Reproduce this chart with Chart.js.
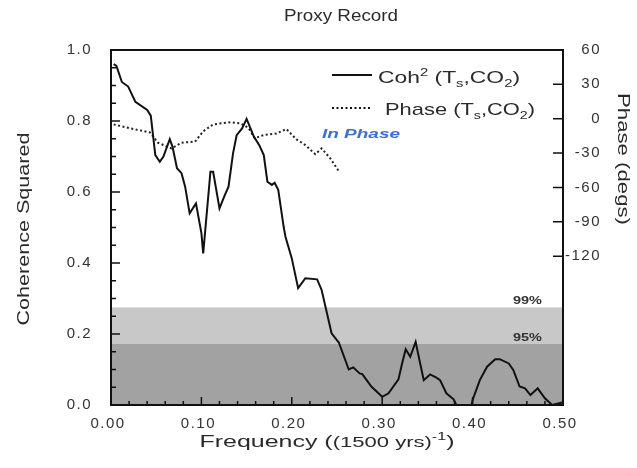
<!DOCTYPE html>
<html>
<head>
<meta charset="utf-8">
<style>
  html, body { margin: 0; padding: 0; background: #fff; }
  canvas { display: block; }
</style>
<script src="https://cdn.jsdelivr.net/npm/chart.js@4.4.1/dist/chart.umd.min.js"></script>
</head>
<body>
<canvas id="chart" width="637" height="468"></canvas>
<script>
// Coherence squared (solid line)
const cohFreq = [0.003, 0.006, 0.012, 0.019, 0.027, 0.040, 0.044, 0.049, 0.054, 0.058,
  0.065, 0.068, 0.073, 0.078, 0.082, 0.087, 0.094, 0.100, 0.102, 0.110,
  0.113, 0.120, 0.126, 0.130, 0.135, 0.139, 0.145, 0.150, 0.158, 0.164,
  0.169, 0.173, 0.178, 0.181, 0.185, 0.191, 0.193, 0.200, 0.207, 0.215,
  0.228, 0.233, 0.244, 0.252, 0.263, 0.268, 0.275, 0.278, 0.288, 0.300,
  0.307, 0.318, 0.322, 0.326, 0.331, 0.337, 0.342, 0.346, 0.353, 0.360,
  0.364, 0.371, 0.379, 0.382, 0.399, 0.400, 0.408, 0.416, 0.425, 0.430,
  0.440, 0.445, 0.452, 0.458, 0.464, 0.472, 0.480, 0.488, 0.499];
const coh = [0.96, 0.955, 0.91, 0.897, 0.854, 0.831, 0.815, 0.704, 0.685, 0.70,
  0.749, 0.728, 0.667, 0.653, 0.615, 0.54, 0.568, 0.484, 0.427, 0.657,
  0.657, 0.554, 0.592, 0.615, 0.709, 0.76, 0.779, 0.806, 0.756, 0.732,
  0.704, 0.629, 0.62, 0.626, 0.606, 0.502, 0.474, 0.413, 0.329, 0.357,
  0.354, 0.324, 0.202, 0.176, 0.100, 0.106, 0.089, 0.087, 0.052, 0.023,
  0.033, 0.072, 0.117, 0.157, 0.136, 0.178, 0.117, 0.070, 0.086, 0.077,
  0.070, 0.033, 0.016, 0.0, 0.0, 0.014, 0.07, 0.108, 0.129, 0.129,
  0.117, 0.099, 0.052, 0.047, 0.028, 0.047, 0.019, 0.0, 0.007];

// Phase in degrees (dotted line, right axis)
const phaseFreq = [0.003, 0.025, 0.043, 0.052, 0.067, 0.078, 0.093, 0.102, 0.113, 0.132,
  0.143, 0.152, 0.159, 0.170, 0.183, 0.194, 0.205, 0.215, 0.226, 0.233, 0.242, 0.253];
const phase = [-5, -9, -12, -21, -26, -21, -20, -11, -5, -3,
  -4, -8, -17, -14, -13, -9, -18, -23, -31, -26, -34, -47];

// significance levels: 99% and 95%
const sigLevels = [0.275, 0.172];
const sigLabels = ["99%", "95%"];

const xTicks = [0, 0.1, 0.2, 0.3, 0.4, 0.5];
const yTicks = [0, 0.2, 0.4, 0.6, 0.8, 1.0];
const phaseTicks = [60, 30, 0, -30, -60, -90, -120];

const FONT = "'Liberation Sans', Arial, sans-serif";
const TEXT = "#2a2a2a";

// draw a run of text pieces (super/subscripts), squeezed or stretched to a target width
function richText(ctx, parts, x, y, targetW, opts) {
  opts = opts || {};
  ctx.save();
  ctx.letterSpacing = "0px";
  let w = 0;
  parts.forEach((p) => {
    ctx.font = `${p.style || ""} ${p.weight || ""} ${p.size}px ${FONT}`;
    p.w = ctx.measureText(p.t).width;
    w += p.w;
  });
  const s = targetW / w;
  ctx.translate(x, y);
  if (opts.rot) ctx.rotate(opts.rot);
  ctx.scale(s, 1);
  ctx.fillStyle = opts.color || TEXT;
  ctx.textBaseline = "alphabetic";
  ctx.textAlign = "left";
  let cx = opts.align === "left" ? 0 : opts.align === "right" ? -w : -w / 2;
  parts.forEach((p) => {
    ctx.font = `${p.style || ""} ${p.weight || ""} ${p.size}px ${FONT}`;
    ctx.fillText(p.t, cx, p.dy || 0);
    cx += p.w;
  });
  ctx.restore();
}

const spacing = {
  id: "spacing",
  beforeLayout(chart) { chart.ctx.letterSpacing = "1.5px"; },
  beforeDraw(chart) { chart.ctx.letterSpacing = "1.5px"; },
};

const bands = {
  id: "bands",
  beforeDatasetsDraw(chart) {
    const { ctx, chartArea: a, scales } = chart;
    const y = scales.y;
    ctx.save();
    ctx.fillStyle = "#c8c8c8";
    ctx.fillRect(a.left, y.getPixelForValue(sigLevels[0]), a.right - a.left,
      y.getPixelForValue(sigLevels[1]) - y.getPixelForValue(sigLevels[0]));
    ctx.fillStyle = "#a2a2a2";
    ctx.fillRect(a.left, y.getPixelForValue(sigLevels[1]), a.right - a.left,
      y.getPixelForValue(0) - y.getPixelForValue(sigLevels[1]));
    ctx.restore();
    sigLevels.forEach((lv, i) => {
      richText(ctx, [{ t: sigLabels[i], size: 10, weight: "bold" }],
        a.right - 21, y.getPixelForValue(lv) - 3, 29, { align: "right", color: "#333" });
    });
  },
};

const frame = {
  id: "frame",
  afterDraw(chart) {
    const { ctx, chartArea: a, scales } = chart;
    ctx.save();
    ctx.letterSpacing = "0px";
    ctx.strokeStyle = "#111";
    ctx.lineWidth = 1.5;
    ctx.beginPath();
    // x ticks pointing up into the plot
    for (let i = 0; i <= 25; i++) {
      const v = i * 0.02;
      const px = scales.x.getPixelForValue(v);
      const len = i % 5 === 0 ? 8 : 4;
      ctx.moveTo(px, a.bottom);
      ctx.lineTo(px, a.bottom - len);
    }
    // left ticks
    for (let i = 0; i <= 20; i++) {
      const v = i * 0.05;
      const py = scales.y.getPixelForValue(v);
      const len = i % 4 === 0 ? 9 : 5;
      ctx.moveTo(a.left, py);
      ctx.lineTo(a.left + len, py);
    }
    // right ticks
    phaseTicks.forEach((v) => {
      const py = scales.y2.getPixelForValue(v);
      ctx.moveTo(a.right, py);
      ctx.lineTo(a.right - 10, py);
    });
    ctx.stroke();
    ctx.lineWidth = 2;
    ctx.strokeRect(a.left, a.top, a.right - a.left, a.bottom - a.top);

    // legend keys
    const lx = a.left + 221;
    ctx.lineWidth = 2;
    ctx.beginPath();
    ctx.moveTo(lx, a.top + 25);
    ctx.lineTo(lx + 40, a.top + 25);
    ctx.stroke();
    ctx.setLineDash([2, 2.5]);
    ctx.beginPath();
    ctx.moveTo(lx, a.top + 58);
    ctx.lineTo(lx + 40, a.top + 58);
    ctx.stroke();
    ctx.restore();

    const sub = (t) => ({ t, size: 11, dy: 4 });
    richText(ctx, [{ t: "Coh", size: 17 }, { t: "2", size: 11, dy: -7 }, { t: " (T", size: 17 },
      sub("s"), { t: ",CO", size: 17 }, sub("2"), { t: ")", size: 17 }],
      a.left + 267, a.top + 33, 142, { align: "left" });
    richText(ctx, [{ t: "Phase (T", size: 17 }, sub("s"), { t: ",CO", size: 17 }, sub("2"), { t: ")", size: 17 }],
      a.left + 274, a.top + 65, 150, { align: "left" });
    richText(ctx, [{ t: "In Phase", size: 13, weight: "bold", style: "italic" }],
      a.left + 211, a.top + 88, 78, { align: "left", color: "#3a6ee0" });

    // titles
    richText(ctx, [{ t: "Proxy Record", size: 16 }], 341, 21, 114);
    richText(ctx, [{ t: "Coherence Squared", size: 17 }], 29, 229, 193, { rot: -Math.PI / 2 });
    richText(ctx, [{ t: "Phase (degs)", size: 16 }], 618, 159, 132, { rot: Math.PI / 2 });
    richText(ctx, [{ t: "Frequency (", size: 17 }, { t: "(1500 yrs)", size: 15 },
      { t: "-1", size: 11, dy: -7 }, { t: ")", size: 17 }], 327, 447, 255);
  },
};

const tickFont = { family: FONT, size: 15 };

new Chart(document.getElementById("chart"), {
  type: "line",
  data: {
    datasets: [
      {
        label: "Coh",
        data: cohFreq.map((f, i) => ({ x: f, y: coh[i] })),
        yAxisID: "y",
        borderColor: "#111",
        borderWidth: 2,
        pointRadius: 0,
        tension: 0,
      },
      {
        label: "Phase",
        data: phaseFreq.map((f, i) => ({ x: f, y: phase[i] })),
        yAxisID: "y2",
        borderColor: "#222",
        borderWidth: 2,
        borderDash: [2, 2.5],
        pointRadius: 0,
        tension: 0,
      },
    ],
  },
  options: {
    responsive: false,
    animation: false,
    layout: { padding: { top: 50, left: 0, right: 36, bottom: 0 } },
    plugins: { legend: { display: false }, tooltip: { enabled: false }, title: { display: false } },
    scales: {
      x: {
        type: "linear",
        min: 0,
        max: 0.5,
        grid: { display: false, drawTicks: false },
        border: { display: false },
        afterBuildTicks: (s) => { s.ticks = xTicks.map((v) => ({ value: v })); },
        ticks: { callback: (v) => Number(v).toFixed(2), font: tickFont, color: "#333",
          padding: 10, labelOffset: -3, autoSkip: false, maxRotation: 0 },
        afterFit: (s) => { s.height = 63; },
      },
      y: {
        min: 0,
        max: 1,
        grid: { display: false, drawTicks: false },
        border: { display: false },
        afterBuildTicks: (s) => { s.ticks = yTicks.map((v) => ({ value: v })); },
        ticks: { callback: (v) => Number(v).toFixed(1), font: tickFont, color: "#333", padding: 19 },
        afterFit: (s) => { s.width = 111; },
      },
      y2: {
        position: "right",
        min: -250,
        max: 60,
        grid: { display: false, drawTicks: false },
        border: { display: false },
        afterBuildTicks: (s) => { s.ticks = phaseTicks.map((v) => ({ value: v })); },
        ticks: { font: tickFont, color: "#333", padding: 4, crossAlign: "far" },
        afterFit: (s) => { s.width = 38; },
      },
    },
  },
  plugins: [spacing, bands, frame],
});
</script>
</body>
</html>
